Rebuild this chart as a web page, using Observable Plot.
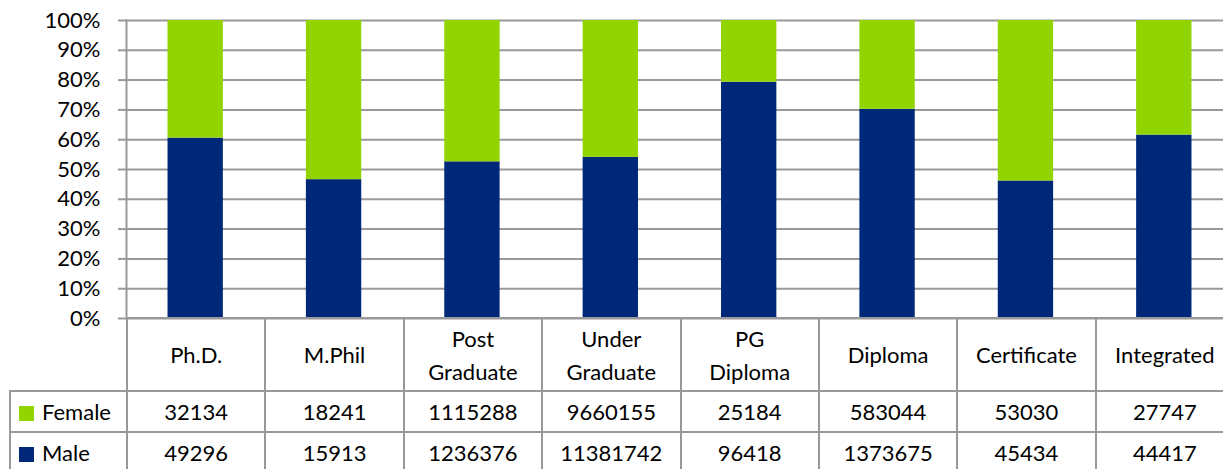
<!DOCTYPE html>
<html>
<head>
<meta charset="utf-8">
<script src="https://cdn.jsdelivr.net/npm/d3@7"></script>
<script src="https://cdn.jsdelivr.net/npm/@observablehq/plot@0.6"></script>
<style>
  html, body { margin: 0; padding: 0; background: #fff; }
  #wrap { position: relative; width: 1223px; height: 469px; overflow: hidden; font-family: Lato, "Open Sans", sans-serif; }
  #chart { position: absolute; left: 0; top: 0; width: 1240px; }
  #chart svg { max-width: none !important; }
  table { position: absolute; left: 9px; top: 317px; border-collapse: collapse; table-layout: fixed; font-size: 22px; color: #000; }
  td, th { border: 2px solid #999; text-align: center; font-weight: normal; padding: 0; line-height: 33px; white-space: nowrap; }
  th.blank { border-top: none; border-left: none; }
  td.leg { text-align: left; padding-left: 8px; }
  .sw { display: inline-block; width: 15px; height: 15px; margin-right: 8px; vertical-align: -1px; }
</style>
</head>
<body>
<div id="wrap">
  <div id="chart"></div>
  <table id="tbl"></table>
</div>
<script>
const categories = ["Ph.D.", "M.Phil", "Post Graduate", "Under Graduate", "PG Diploma", "Diploma", "Certificate", "Integrated"];
const series = ["Female", "Male"];
const female = [32134, 18241, 1115288, 9660155, 25184, 583044, 53030, 27747];
const male = [49296, 15913, 1236376, 11381742, 96418, 1373675, 45434, 44417];
const yTicks = [0, 0.1, 0.2, 0.3, 0.4, 0.5, 0.6, 0.7, 0.8, 0.9, 1];
const colors = { Female: "#92d400", Male: "#002878" };

const rows = [];
categories.forEach((c, i) => {
  rows.push({ cat: c, sex: "Male", v: male[i] });
  rows.push({ cat: c, sex: "Female", v: female[i] });
});

const gridColor = "#999";
// the plot area runs past the right edge of the window, as in the reference
const plotWidth = 1233;

const chart = Plot.plot({
  width: plotWidth,
  height: 340,
  marginTop: 20,
  marginBottom: 22,
  marginLeft: 126,
  marginRight: 0,
  style: { fontFamily: "Lato, 'Open Sans', sans-serif", fontSize: "22px", color: "#000", background: "transparent", maxWidth: "none" },
  x: { domain: categories, paddingInner: 0.6, paddingOuter: 0.3, round: false, axis: null },
  y: { domain: [0, 1], axis: null },
  color: { domain: series, range: series.map(s => colors[s]) },
  marks: [
    Plot.gridY(yTicks, { stroke: gridColor, strokeOpacity: 1, strokeWidth: 2 }),
    Plot.axisY(yTicks, { label: null, tickSize: 8, tickPadding: 18, tickFormat: d3.format(".0%"), stroke: gridColor, strokeOpacity: 1, strokeWidth: 2, fontSize: 22, fill: "#000" }),
    Plot.barY(rows, Plot.stackY({ offset: "normalize", order: ["Male", "Female"] }, { x: "cat", y: "v", fill: "sex" })),
    Plot.frame({ anchor: "left", stroke: gridColor, strokeWidth: 2 })
  ]
});
chart.style.maxWidth = "none";
document.getElementById("chart").appendChild(chart);

// data table below the chart
const colW = (plotWidth - 126) / categories.length;
const tbl = document.getElementById("tbl");
tbl.style.width = (117 + colW * categories.length) + "px";
let html = '<colgroup><col style="width:117px">' + categories.map(() => `<col style="width:${colW}px">`).join("") + '</colgroup>';
html += '<tr style="height:73px"><th class="blank"></th>' + categories.map(c => `<th>${c.replace(" ", "<br>")}</th>`).join("") + '</tr>';
const vals = { Female: female, Male: male };
for (const s of series) {
  html += `<tr style="height:41px"><td class="leg"><span class="sw" style="background:${colors[s]}"></span>${s}</td>` +
    vals[s].map(v => `<td>${v}</td>`).join("") + '</tr>';
}
tbl.innerHTML = html;
</script>
</body>
</html>
